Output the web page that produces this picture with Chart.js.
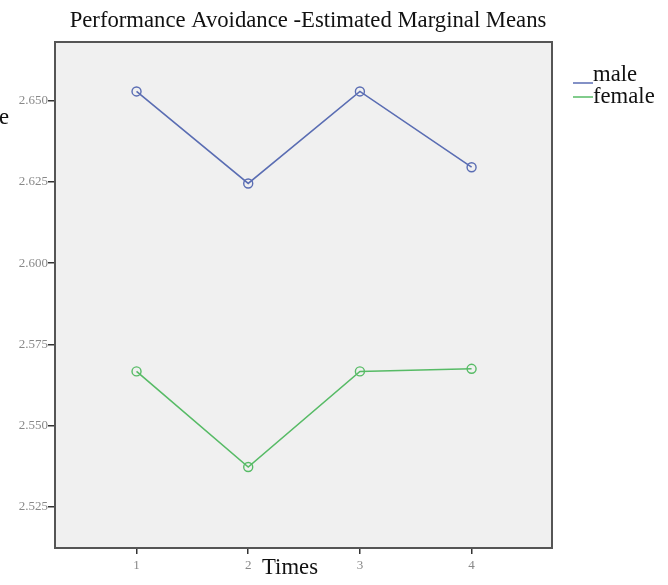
<!DOCTYPE html>
<html>
<head>
<meta charset="utf-8">
<script src="https://cdn.jsdelivr.net/npm/chart.js@4/dist/chart.umd.min.js"></script>
<style>
  html, body { margin: 0; padding: 0; background: #fff; }
  #wrap { width: 668px; height: 585px; position: relative; }
</style>
</head>
<body>
<div id="wrap"><canvas id="emmChart"></canvas></div>
<script>
// Estimated marginal means
const times = [1, 2, 3, 4];
const maleMeans = [2.6528, 2.6245, 2.6528, 2.6295];
const femaleMeans = [2.5667, 2.5373, 2.5667, 2.5675];
const yTicks = [2.525, 2.550, 2.575, 2.600, 2.625, 2.650];
const seriesNames = ['male', 'female'];

const SERIF = "'Liberation Serif', 'Times New Roman', serif";
const maleColor = '#5a6db3';
const femaleColor = '#57bb66';

// Frame, title, legend and axis title drawn by hand (SPSS look)
const spssDecor = {
    id: 'spssDecor',
    beforeDraw(chart) {
        const { ctx, chartArea: a } = chart;
        ctx.save();
        ctx.fillStyle = '#f0f0f0';
        ctx.fillRect(a.left, a.top, a.right - a.left, a.bottom - a.top);
        ctx.restore();
    },
    afterDraw(chart) {
        const { ctx, chartArea: a } = chart;
        ctx.save();
        ctx.strokeStyle = '#555';
        ctx.lineWidth = 2;
        ctx.strokeRect(a.left, a.top, a.right - a.left, a.bottom - a.top);

        ctx.fillStyle = '#111';
        ctx.textBaseline = 'middle';
        ctx.font = '22.7px ' + SERIF;
        ctx.textAlign = 'center';
        ctx.fillText('Performance Avoidance -Estimated Marginal Means', 308, 21);

        // x axis title
        ctx.fillText('Times', 290, 568);

        // clipped fragment of the y axis label at the edge
        ctx.textAlign = 'left';
        ctx.fillText('e', -1, 118);

        // legend
        const colors = [maleColor, femaleColor];
        const lineY = [83, 97];
        const textY = [81, 103];
        ctx.textBaseline = 'alphabetic';
        seriesNames.forEach((name, i) => {
            ctx.strokeStyle = colors[i];
            ctx.lineWidth = 1.5;
            ctx.beginPath();
            ctx.moveTo(573, lineY[i]);
            ctx.lineTo(593, lineY[i]);
            ctx.stroke();
            ctx.fillStyle = '#111';
            ctx.fillText(name, 593, textY[i]);
        });
        ctx.restore();
    }
};

const ctx = document.getElementById('emmChart').getContext('2d');
new Chart(ctx, {
    type: 'line',
    data: {
        datasets: [
            {
                label: seriesNames[0],
                data: times.map((t, i) => ({ x: t, y: maleMeans[i] })),
                borderColor: maleColor,
                borderWidth: 1.6,
                pointRadius: 4.5,
                pointBorderWidth: 1.4,
                pointBackgroundColor: 'rgba(0,0,0,0)',
                pointBorderColor: maleColor,
                tension: 0
            },
            {
                label: seriesNames[1],
                data: times.map((t, i) => ({ x: t, y: femaleMeans[i] })),
                borderColor: femaleColor,
                borderWidth: 1.6,
                pointRadius: 4.5,
                pointBorderWidth: 1.4,
                pointBackgroundColor: 'rgba(0,0,0,0)',
                pointBorderColor: femaleColor,
                tension: 0
            }
        ]
    },
    options: {
        responsive: true,
        maintainAspectRatio: false,
        animation: false,
        layout: { padding: { top: 42, right: 116, left: 0, bottom: 0 } },
        plugins: {
            legend: { display: false },
            title: { display: false },
            tooltip: { enabled: false }
        },
        scales: {
            x: {
                type: 'linear',
                min: 0.27,
                max: 4.72,
                afterBuildTicks: s => { s.ticks = times.map(v => ({ value: v })); },
                afterFit: s => { s.height = 37; },
                grid: { drawOnChartArea: false, drawTicks: true, tickLength: 6, color: '#333', lineWidth: 1.5 },
                border: { display: false },
                ticks: {
                    color: '#888',
                    font: { family: SERIF, size: 13 },
                    padding: 4,
                    maxRotation: 0,
                    callback: v => String(v)
                }
            },
            y: {
                min: 2.5124,
                max: 2.668,
                afterBuildTicks: s => { s.ticks = yTicks.map(v => ({ value: v })); },
                afterFit: s => { s.width = 55; },
                grid: { drawOnChartArea: false, drawTicks: true, tickLength: 7, color: '#333', lineWidth: 1.5 },
                border: { display: false },
                ticks: {
                    color: '#888',
                    font: { family: SERIF, size: 13 },
                    padding: 0,
                    callback: v => Number(v).toFixed(3)
                }
            }
        }
    },
    plugins: [spssDecor]
});
</script>
</body>
</html>
